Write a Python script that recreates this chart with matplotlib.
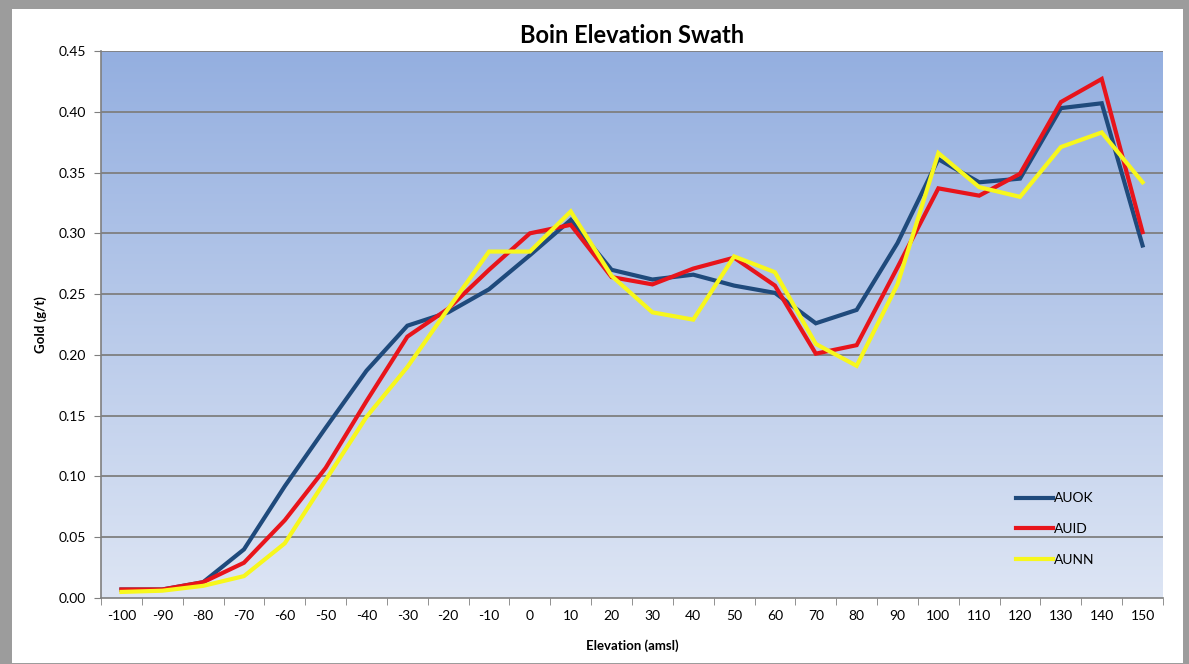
import numpy as np
import matplotlib.pyplot as plt
from matplotlib.patches import Rectangle
from matplotlib.colors import LinearSegmentedColormap

elevation = [-100, -90, -80, -70, -60, -50, -40, -30, -20, -10, 0, 10, 20,
             30, 40, 50, 60, 70, 80, 90, 100, 110, 120, 130, 140, 150]

auok = [0.007, 0.007, 0.013, 0.040, 0.092, 0.140, 0.187, 0.224, 0.235, 0.254,
        0.282, 0.311, 0.270, 0.262, 0.266, 0.257, 0.251, 0.226, 0.237, 0.292,
        0.361, 0.342, 0.345, 0.403, 0.407, 0.290]
auid = [0.007, 0.007, 0.013, 0.029, 0.064, 0.107, 0.162, 0.215, 0.238, 0.270,
        0.300, 0.307, 0.264, 0.258, 0.271, 0.280, 0.257, 0.201, 0.208, 0.272,
        0.337, 0.331, 0.349, 0.408, 0.427, 0.301]
aunn = [0.005, 0.006, 0.010, 0.018, 0.045, 0.097, 0.149, 0.190, 0.238, 0.285,
        0.285, 0.318, 0.265, 0.235, 0.229, 0.281, 0.268, 0.209, 0.191, 0.258,
        0.366, 0.338, 0.330, 0.371, 0.383, 0.342]

series_names = ['AUOK', 'AUID', 'AUNN']
series_colors = ['#1f4a7c', '#e8141b', '#f7f71c']


def main():
    plt.rcParams['font.family'] = ['Lato', 'DejaVu Sans']

    fig = plt.figure(figsize=(11.89, 6.64), dpi=100, facecolor='#9c9c9c')
    # white card with a grey frame round it
    card = Rectangle((12 / 1189, 1 / 664), 1171 / 1189, 654 / 664,
                     transform=fig.transFigure, facecolor='white',
                     edgecolor='none', zorder=-5)
    fig.add_artist(card)

    ax = fig.add_axes([101 / 1189, 66 / 664, 1062 / 1189, 547 / 664])
    ax.set_zorder(2)
    ax.set_facecolor('none')

    # blue gradient background of the plot area
    cmap = LinearSegmentedColormap.from_list('bg', ['#dde5f4', '#94afe0'])
    grad = np.linspace(0, 1, 256).reshape(-1, 1)
    ax.imshow(grad, cmap=cmap, aspect='auto', origin='lower',
              extent=[0, 1, 0, 1], transform=ax.transAxes, zorder=0)

    x = np.arange(len(elevation))
    data = [auok, auid, aunn]
    for vals, name, col in zip(data, series_names, series_colors):
        ax.plot(x, vals, color=col, lw=3.0, label=name, zorder=3,
                solid_joinstyle='miter')

    ax.set_xlim(-0.5, len(elevation) - 0.5)
    ax.set_ylim(0, 0.45)

    yt = np.arange(0, 0.451, 0.05)
    ax.set_yticks(yt)
    ax.set_yticklabels(['%.2f' % v for v in yt], fontsize=10)
    for v in yt[1:]:
        ax.axhline(v, color='#7f7f7f', lw=1.3, zorder=1)

    ax.set_xticks(x)
    ax.set_xticklabels([str(e) for e in elevation], fontsize=10)
    ax.tick_params(axis='x', which='major', length=0, pad=9)
    ax.set_xticks(np.arange(-0.5, len(elevation), 1), minor=True)
    ax.tick_params(axis='x', which='minor', length=5, color='#7f7f7f')
    ax.tick_params(axis='y', length=5, color='#7f7f7f', pad=6)

    for s in ['top', 'right']:
        ax.spines[s].set_visible(False)
    for s in ['left', 'bottom']:
        ax.spines[s].set_color('#7f7f7f')
        ax.spines[s].set_linewidth(1.2)

    ax.set_title('Boin Elevation Swath', fontsize=17, fontweight='bold', pad=6)
    ax.set_xlabel('Elevation (amsl)', fontsize=9.5, fontweight='bold', labelpad=12)
    ax.set_ylabel('Gold (g/t)', fontsize=9.5, fontweight='bold', labelpad=8)

    ax.legend(loc='upper left', bbox_to_anchor=(0.862, 0.193), frameon=False,
              fontsize=10, handlelength=2.6, handletextpad=0.1,
              labelspacing=1.35, borderpad=0, borderaxespad=0)

    fig.savefig('out.png', dpi=100, facecolor=fig.get_facecolor())


if __name__ == '__main__':
    main()
